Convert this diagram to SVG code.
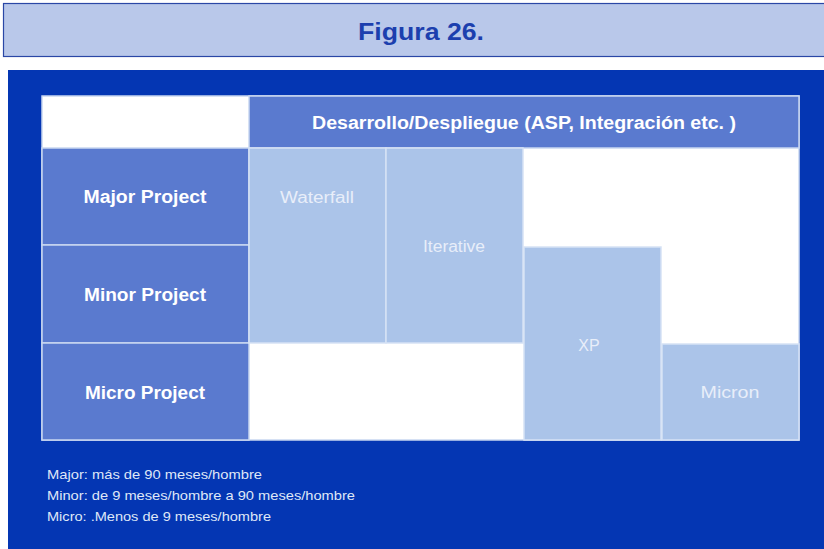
<svg xmlns="http://www.w3.org/2000/svg" width="824" height="549" viewBox="0 0 824 549">
<style>
.lbl{fill:#5a7acf;stroke:#c9d7f1;stroke-width:1.5}
.mth{fill:#abc4e9;stroke:#d6e2f5;stroke-width:1.5}
.lt{font-family:"Liberation Sans",Arial,sans-serif;font-weight:bold;font-size:18px;fill:#ffffff;text-anchor:middle}
.mt{font-family:"Liberation Sans",Arial,sans-serif;font-size:16px;fill:#e8eef9;text-anchor:middle}
.ft{font-family:"Liberation Sans",Arial,sans-serif;font-size:13px;fill:#dfe7f7}
</style>
<rect x="0" y="0" width="824" height="549" fill="#ffffff"/>
<g id="title">
<rect x="3.5" y="3.5" width="825" height="53" fill="#b9c8ea" stroke="#2a47a6" stroke-width="1.2"/>
<text x="421" y="40" font-family="Liberation Sans,Arial,sans-serif" font-weight="bold" font-size="24" fill="#1c3fae" text-anchor="middle" textLength="126" lengthAdjust="spacingAndGlyphs">Figura 26.</text>
</g>
<rect id="panel" x="8" y="70" width="816" height="479" fill="#0436b3"/>
<g id="table">
<rect x="42" y="96" width="757" height="344" fill="#ffffff" stroke="#c9d7f1" stroke-width="1.5"/>
<g id="header"><rect class="lbl" x="249" y="96" width="550" height="52"/>
<text class="lt" x="524" y="129" textLength="424" lengthAdjust="spacingAndGlyphs">Desarrollo/Despliegue (ASP, Integración etc. )</text></g>
<g id="major"><rect class="lbl" x="42" y="148" width="207" height="97"/>
<text class="lt" x="145" y="203" textLength="123" lengthAdjust="spacingAndGlyphs">Major Project</text></g>
<g id="minor"><rect class="lbl" x="42" y="245" width="207" height="98"/>
<text class="lt" x="145" y="301" textLength="122" lengthAdjust="spacingAndGlyphs">Minor Project</text></g>
<g id="micro"><rect class="lbl" x="42" y="343" width="207" height="97"/>
<text class="lt" x="145" y="399" textLength="120" lengthAdjust="spacingAndGlyphs">Micro Project</text></g>
<g id="waterfall"><rect class="mth" x="249" y="148" width="137" height="195"/>
<text class="mt" x="317" y="203" textLength="74" lengthAdjust="spacingAndGlyphs">Waterfall</text></g>
<g id="iterative"><rect class="mth" x="386" y="148" width="137" height="195"/>
<text class="mt" x="454" y="252" textLength="62" lengthAdjust="spacingAndGlyphs">Iterative</text></g>
<g id="xp"><rect class="mth" x="524" y="247" width="137" height="193"/>
<text class="mt" x="589" y="351">XP</text></g>
<g id="micron"><rect class="mth" x="662" y="344" width="137" height="96"/>
<text class="mt" x="730" y="398" textLength="59" lengthAdjust="spacingAndGlyphs">Micron</text></g>
</g>
<g id="legend">
<text class="ft" x="47" y="479" textLength="215" lengthAdjust="spacingAndGlyphs">Major: más de 90 meses/hombre</text>
<text class="ft" x="47" y="500" textLength="308" lengthAdjust="spacingAndGlyphs">Minor: de 9 meses/hombre a 90 meses/hombre</text>
<text class="ft" x="47" y="521" textLength="224" lengthAdjust="spacingAndGlyphs">Micro: .Menos de 9 meses/hombre</text>
</g>
<g id="connectors"></g>
</svg>
